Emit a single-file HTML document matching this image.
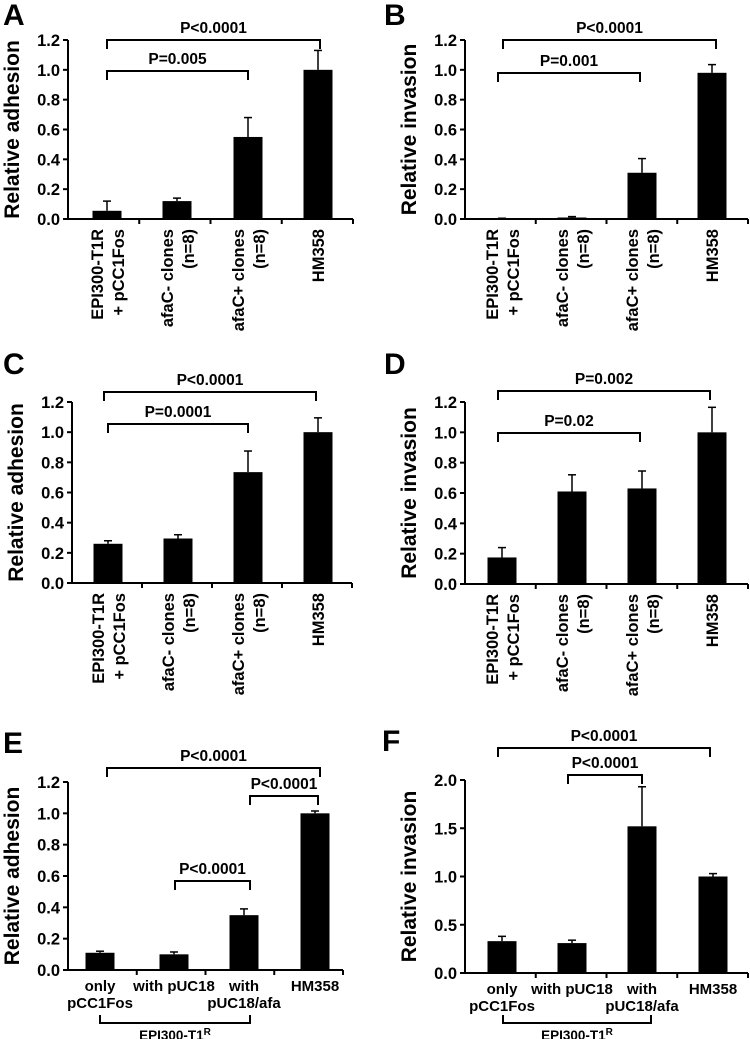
<!DOCTYPE html>
<html><head><meta charset="utf-8">
<style>
body{margin:0;background:#fff;}
svg{display:block;font-family:"Liberation Sans",Arial,sans-serif;font-weight:bold;}
</style></head>
<body>
<svg id="fig" width="750" height="1039" viewBox="0 0 750 1039"></svg>
<script>
// ---- data ----
const catsAD = ["EPI300-T1R|+ pCC1Fos","afaC- clones|(n=8)","afaC+ clones|(n=8)","HM358"];
const catsEF = ["only|pCC1Fos","with pUC18","with|pUC18/afa","HM358"];
const valsA = [0.055, 0.12, 0.55, 1.0];
const errA  = [0.065, 0.02, 0.13, 0.13];
const valsB = [0.003, 0.01, 0.31, 0.98];
const errB  = [0.002, 0.006, 0.095, 0.055];
const valsC = [0.26, 0.295, 0.735, 1.0];
const errC  = [0.02, 0.025, 0.14, 0.095];
const valsD = [0.175, 0.61, 0.63, 1.0];
const errD  = [0.065, 0.11, 0.115, 0.165];
const valsE = [0.11, 0.10, 0.35, 1.0];
const errE  = [0.01, 0.015, 0.04, 0.015];
const valsF = [0.33, 0.31, 1.52, 1.0];
const errF  = [0.05, 0.03, 0.41, 0.03];
const ticks12 = [0, 0.2, 0.4, 0.6, 0.8, 1.0, 1.2];
const ticks20 = [0, 0.5, 1.0, 1.5, 2.0];
const pA = ["P<0.0001","P=0.005"];
const pB = ["P<0.0001","P=0.001"];
const pC = ["P<0.0001","P=0.0001"];
const pD = ["P=0.002","P=0.02"];
const pE = ["P<0.0001","P<0.0001","P<0.0001"];
const pF = ["P<0.0001","P<0.0001"];

const NS="http://www.w3.org/2000/svg";
const svg=document.getElementById('fig');
function el(tag,attrs,parent){const e=document.createElementNS(NS,tag);for(const k in attrs)e.setAttribute(k,attrs[k]);(parent||svg).appendChild(e);return e;}

function panel(o){
  const g=el('g',{});
  
  
  const y=v=>o.y0-(v/o.max)*(o.y0-o.yTop);
  const step=(o.xEnd-o.ax)/4;
  const cx=i=>o.centers[i];
  const L=el('text',{x:o.lx,y:o.ly,'font-size':30},g);L.textContent=o.letter;
  
  
  el('line',{x1:o.ax,y1:o.yTop,x2:o.ax,y2:o.y0+1,stroke:'#000','stroke-width':2},g);
  el('line',{x1:o.ax-1,y1:o.y0,x2:o.xEnd,y2:o.y0,stroke:'#000','stroke-width':2},g);
  o.ticks.forEach(t=>{
    el('line',{x1:o.ax-5,y1:y(t),x2:o.ax,y2:y(t),stroke:'#000','stroke-width':2},g);
    const tt=el('text',{x:o.ax-8,y:y(t)+6,'font-size':16.5,'text-anchor':'end'},g);
    tt.textContent=t.toFixed(1);
    
    
  });
  for(let i=1;i<=4;i++){
    const x=o.ax+step*i;
    el('line',{x1:x,y1:o.y0,x2:x,y2:o.y0+5,stroke:'#000','stroke-width':2},g);
  }
  const my=(o.yTop+o.y0)/2;
  const tx=o.ax-49;
  const yt=el('text',{x:tx,y:my,'font-size':21,'text-anchor':'middle',transform:`rotate(-90 ${tx} ${my})`},g);
  yt.textContent=o.title;
  
  
  o.vals.forEach((v,i)=>{
    const x=cx(i), w=29;
    const top=y(v+o.err[i]);
    el('line',{x1:x,y1:y(v),x2:x,y2:top,stroke:'#000','stroke-width':1.5},g);
    el('line',{x1:x-4,y1:top,x2:x+4,y2:top,stroke:'#000','stroke-width':1.5},g);
    const b=el('rect',{x:x-w/2,y:y(v),width:w,height:Math.max(o.y0-y(v),0.8),fill:'#000'},g);
    
    
  });
  o.cats.forEach((c,i)=>{
    const parts=c.split('|');
    parts.forEach((p,j)=>{
      let t;
      if(o.rot){
        const off=parts.length===1?6:(j===0?-4:17);
        const x=cx(i)+off, yy=o.y0+10;
        t=el('text',{x:x,y:yy,'font-size':16.5,'text-anchor':'end',transform:`rotate(-90 ${x} ${yy})`},g);
      } else {
        t=el('text',{x:cx(i),y:o.y0+21+j*17,'font-size':15,'text-anchor':'middle'},g);
      }
      t.textContent=p;
      
      
    });
  });
  o.br.forEach((b,k)=>{
    el('path',{d:`M${b[0]} ${b[2]+9} V${b[2]} H${b[1]} V${b[2]+9}`,fill:'none',stroke:'#000','stroke-width':2},g);
    const t=el('text',{x:(b[0]+b[1])/2,y:b[2]-7,'font-size':15.5,'text-anchor':'middle'},g);
    t.textContent=o.p[k];
    
    
  });
  if(o.group){
    const gb=o.group;
    el('path',{d:`M${gb[0]} ${gb[2]-8} V${gb[2]} H${gb[1]} V${gb[2]-8}`,fill:'none',stroke:'#000','stroke-width':2},g);
    const t=el('text',{x:(gb[0]+gb[1])/2,y:gb[2]+17,'font-size':13.5,'text-anchor':'middle'},g);
    t.textContent='EPI300-T1';
    const s=el('tspan',{'font-size':10,dy:-5},t);s.textContent='R';
    
    
  }
}

panel({letter:'A',lx:3,ly:25,ax:68,xEnd:353,yTop:40,y0:219,max:1.2,ticks:ticks12,title:'Relative adhesion',
  centers:[107,177,248,318],vals:valsA,err:errA,cats:catsAD,rot:true,p:pA,
  br:[[107,320,40],[107,248,71]]});
panel({letter:'B',lx:384,ly:25,ax:465,xEnd:748,yTop:40,y0:219,max:1.2,ticks:ticks12,title:'Relative invasion',
  centers:[502,572,642,712],vals:valsB,err:errB,cats:catsAD,rot:true,p:pB,
  br:[[503,716,40],[498,640,73]]});
panel({letter:'C',lx:3,ly:374,ax:72,xEnd:352,yTop:402,y0:583,max:1.2,ticks:ticks12,title:'Relative adhesion',
  centers:[108,178,248,318],vals:valsC,err:errC,cats:catsAD,rot:true,p:pC,
  br:[[104,316,392],[108,248,424]]});
panel({letter:'D',lx:384,ly:374,ax:465,xEnd:748,yTop:402,y0:584,max:1.2,ticks:ticks12,title:'Relative invasion',
  centers:[502,572,642,712],vals:valsD,err:errD,cats:catsAD,rot:true,p:pD,
  br:[[498,710,391],[498,640,433]]});
panel({letter:'E',lx:3,ly:753,ax:68,xEnd:343,yTop:782,y0:970,max:1.2,ticks:ticks12,title:'Relative adhesion',
  centers:[100,174,244,315],vals:valsE,err:errE,cats:catsEF,rot:false,p:pE,
  br:[[107,320,768],[250,318,796],[175,250,881]],group:[100,250,1023]});
panel({letter:'F',lx:382,ly:751,ax:465,xEnd:748,yTop:780,y0:973,max:2.0,ticks:ticks20,title:'Relative invasion',
  centers:[502,572,642,713],vals:valsF,err:errF,cats:catsEF,rot:false,p:pF,
  br:[[498,710,748],[568,642,775]],group:[503,651,1023]});
</script>
</body></html>
